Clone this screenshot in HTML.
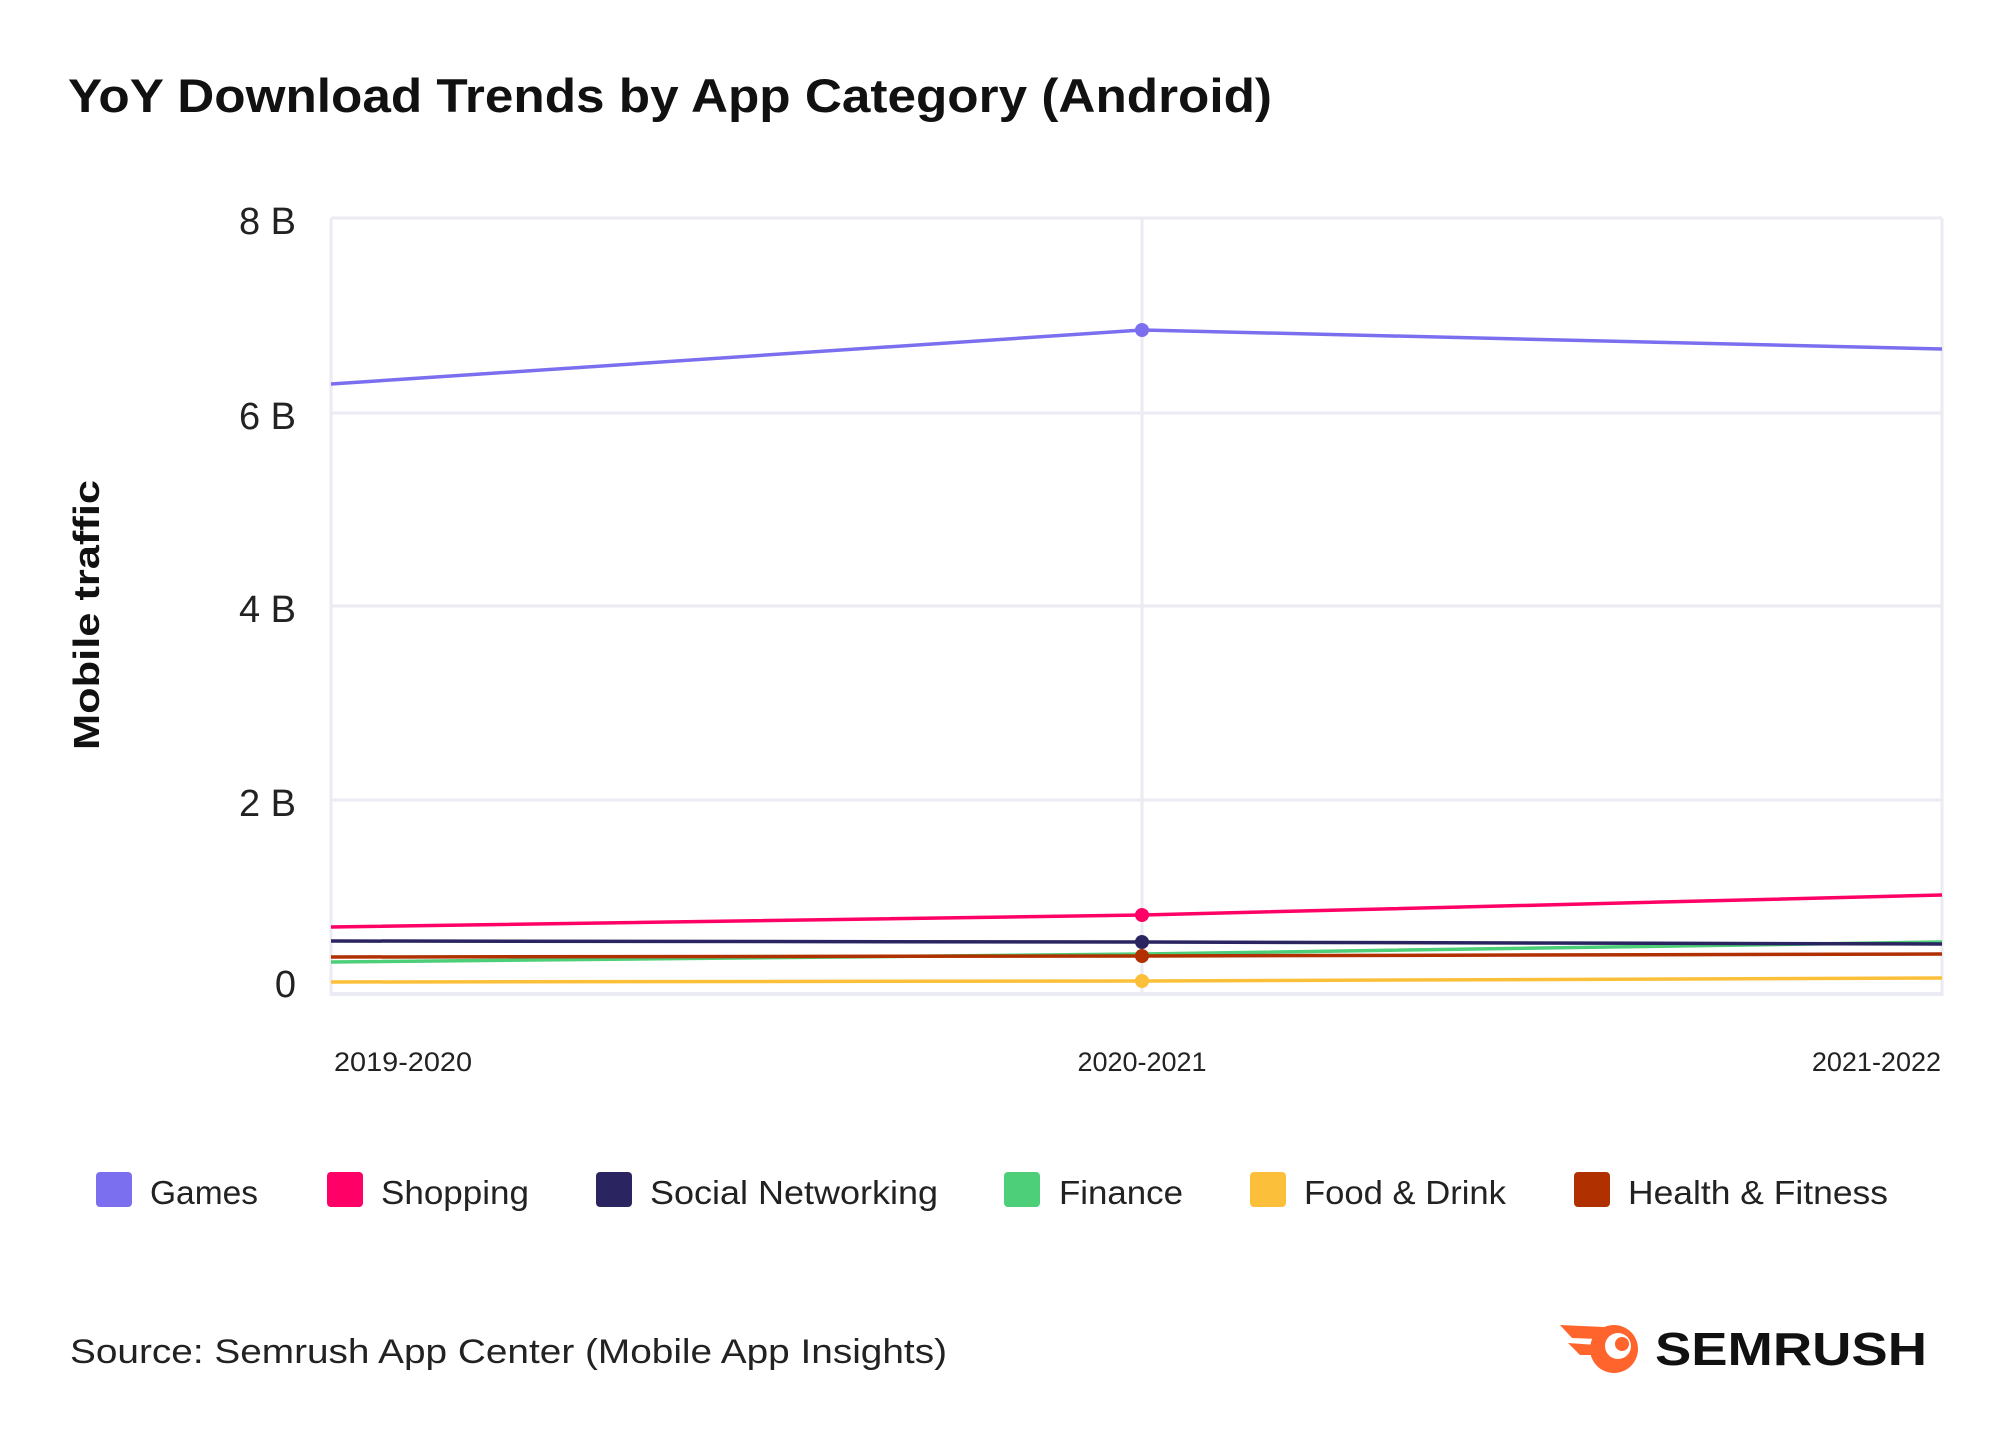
<!DOCTYPE html>
<html><head><meta charset="utf-8"><style>
html,body{margin:0;padding:0;background:#fff;}
svg{display:block;font-family:"Liberation Sans",sans-serif;}
</style></head><body>
<svg width="2000" height="1446" viewBox="0 0 2000 1446">
<rect width="2000" height="1446" fill="#fff"/>
<text x="68" y="112" font-size="47" font-weight="bold" fill="#111" textLength="1204" lengthAdjust="spacingAndGlyphs">YoY Download Trends by App Category (Android)</text>
<g stroke="#ebebf3" stroke-width="3" fill="none">
<line x1="331" y1="218" x2="1942" y2="218"/>
<line x1="331" y1="413" x2="1942" y2="413"/>
<line x1="331" y1="606" x2="1942" y2="606"/>
<line x1="331" y1="800" x2="1942" y2="800"/>
<line x1="331" y1="994" x2="1942" y2="994" stroke-width="4"/>
<line x1="331" y1="218" x2="331" y2="996"/>
<line x1="1142" y1="218" x2="1142" y2="996"/>
<line x1="1942" y1="218" x2="1942" y2="996"/>
</g>
<g font-size="38" fill="#222" text-anchor="end">
<text x="296" y="234">8 B</text>
<text x="296" y="429">6 B</text>
<text x="296" y="622">4 B</text>
<text x="296" y="816">2 B</text>
<text x="296" y="997">0</text>
</g>
<text transform="translate(99,615) rotate(-90)" font-size="36" font-weight="bold" text-anchor="middle" fill="#111" textLength="270" lengthAdjust="spacingAndGlyphs">Mobile traffic</text>
<g font-size="27" fill="#222">
<text x="334" y="1071" textLength="138" lengthAdjust="spacingAndGlyphs">2019-2020</text>
<text x="1142" y="1071" text-anchor="middle">2020-2021</text>
<text x="1941" y="1071" text-anchor="end">2021-2022</text>
</g>
<g fill="none" stroke-width="3.5">
<polyline stroke="#fbbf3a" points="331,982 1142,981 1942,978"/>
<polyline stroke="#4ccf78" points="331,962 1142,954 1942,942"/>
<polyline stroke="#2a2560" points="331,941 1142,942 1942,944"/>
<polyline stroke="#b03000" points="331,957 1142,956 1942,954"/>
<polyline stroke="#ff0066" points="331,927 1142,915 1942,895"/>
<polyline stroke="#7b6ff0" points="331,384 1142,330 1942,349"/>
</g>
<circle cx="1142" cy="981" r="7" fill="#fbbf3a"/>
<circle cx="1142" cy="942" r="7" fill="#2a2560"/>
<circle cx="1142" cy="956" r="7" fill="#b03000"/>
<circle cx="1142" cy="915" r="7" fill="#ff0066"/>
<circle cx="1142" cy="330" r="7" fill="#7b6ff0"/>
<g font-size="33" fill="#222">
<rect x="96" y="1172" width="36" height="35" rx="4" fill="#7b6ff0"/><text x="150" y="1204" textLength="108" lengthAdjust="spacingAndGlyphs">Games</text>
<rect x="327" y="1172" width="36" height="35" rx="4" fill="#ff0066"/><text x="381" y="1204" textLength="148" lengthAdjust="spacingAndGlyphs">Shopping</text>
<rect x="596" y="1172" width="36" height="35" rx="4" fill="#2a2560"/><text x="650" y="1204" textLength="288" lengthAdjust="spacingAndGlyphs">Social Networking</text>
<rect x="1004" y="1172" width="36" height="35" rx="4" fill="#4ccf78"/><text x="1059" y="1204" textLength="124" lengthAdjust="spacingAndGlyphs">Finance</text>
<rect x="1250" y="1172" width="36" height="35" rx="4" fill="#fbbf3a"/><text x="1304" y="1204" textLength="202" lengthAdjust="spacingAndGlyphs">Food &amp; Drink</text>
<rect x="1574" y="1172" width="36" height="35" rx="4" fill="#b03000"/><text x="1628" y="1204" textLength="260" lengthAdjust="spacingAndGlyphs">Health &amp; Fitness</text>
</g>
<text x="70" y="1363" font-size="34" fill="#222" textLength="877" lengthAdjust="spacingAndGlyphs">Source: Semrush App Center (Mobile App Insights)</text>
<g transform="translate(-8,-7)">
<circle cx="1622" cy="1356" r="24" fill="#ff642d"/>
<circle cx="1626" cy="1353" r="13" fill="#fff"/>
<circle cx="1630" cy="1351" r="7" fill="#ff642d"/>
<path d="M1568 1332 L1612 1334 L1606 1346 L1580 1345 Z M1576 1350 L1604 1352 L1602 1362 L1588 1362 Z" fill="#ff642d"/>
</g>
<text x="1655" y="1365" font-size="46" font-weight="bold" fill="#111" textLength="272" lengthAdjust="spacingAndGlyphs">SEMRUSH</text>
</svg>
</body></html>
